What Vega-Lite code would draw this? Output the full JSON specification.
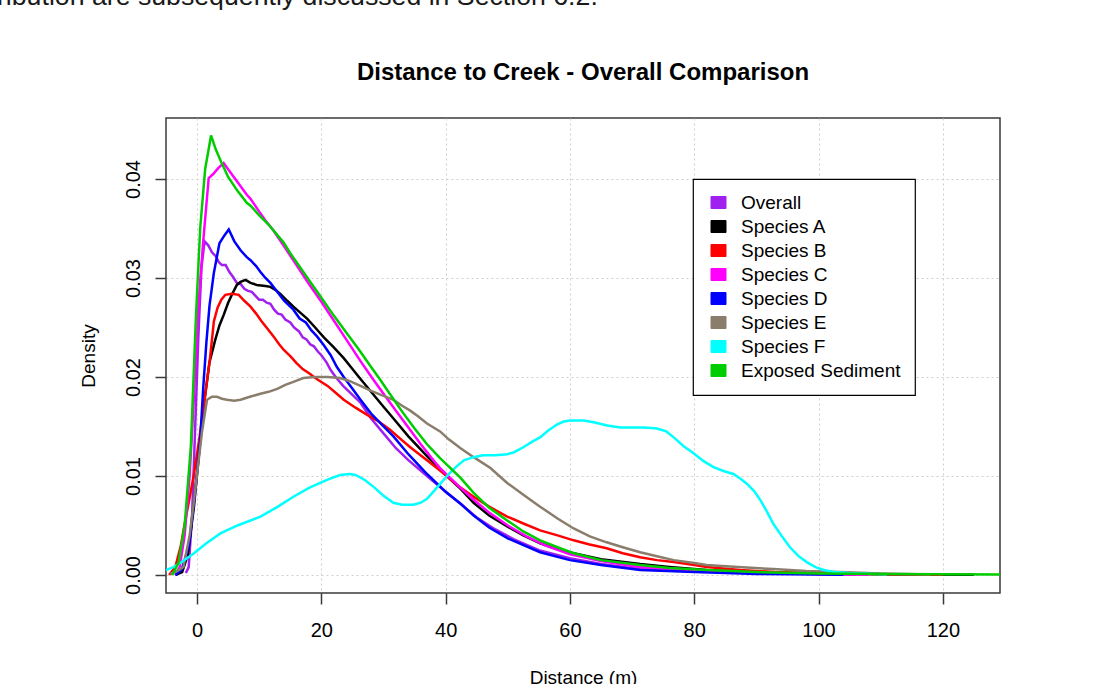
{
  "$schema": "https://vega.github.io/schema/vega-lite/v6.json",
  "autosize": {"type": "none"},
  "padding": {"left": 166, "top": 118, "right": 102, "bottom": 91},
  "width": 834,
  "height": 475,
  "background": "white",
  "config": {
    "font": "Liberation Sans",
    "view": {"stroke": "#3a3a3a", "strokeWidth": 1.5},
    "axis": {
      "domain": false,
      "grid": true,
      "gridColor": "#cfcfcf",
      "gridDash": [2, 3],
      "gridWidth": 1,
      "tickColor": "#3a3a3a",
      "tickWidth": 1.5,
      "tickSize": 11,
      "labelFont": "Liberation Sans",
      "labelFontSize": 20,
      "labelColor": "#000000",
      "labelFlush": false,
      "labelOverlap": false,
      "titleFont": "Liberation Sans",
      "titleFontSize": 19,
      "titleFontWeight": "normal",
      "titleColor": "#000000"
    }
  },
  "title": {
    "text": "Distance to Creek - Overall Comparison",
    "font": "Liberation Sans",
    "fontSize": 24,
    "fontWeight": "bold",
    "color": "#000000",
    "anchor": "middle",
    "frame": "group",
    "offset": 32,
    "dy": 133
  },
  "layer": [
    {
      "data": {
        "values": [
          {"series": "Overall", "distance": -1.8, "density": 0.0002},
          {"series": "Overall", "distance": -1.35, "density": 0.0008},
          {"series": "Overall", "distance": -0.8, "density": 0.006},
          {"series": "Overall", "distance": -0.3, "density": 0.015},
          {"series": "Overall", "distance": 0.2, "density": 0.024},
          {"series": "Overall", "distance": 0.7, "density": 0.031},
          {"series": "Overall", "distance": 1.2, "density": 0.0337},
          {"series": "Overall", "distance": 1.8, "density": 0.0333},
          {"series": "Overall", "distance": 2.4, "density": 0.0326},
          {"series": "Overall", "distance": 3.0, "density": 0.0322},
          {"series": "Overall", "distance": 3.5, "density": 0.0316},
          {"series": "Overall", "distance": 4.0, "density": 0.0313},
          {"series": "Overall", "distance": 4.6, "density": 0.0313},
          {"series": "Overall", "distance": 5.2, "density": 0.0306},
          {"series": "Overall", "distance": 5.8, "density": 0.0301},
          {"series": "Overall", "distance": 6.4, "density": 0.0295},
          {"series": "Overall", "distance": 7.0, "density": 0.0294},
          {"series": "Overall", "distance": 7.6, "density": 0.0289},
          {"series": "Overall", "distance": 8.2, "density": 0.0287},
          {"series": "Overall", "distance": 8.8, "density": 0.0286},
          {"series": "Overall", "distance": 9.4, "density": 0.0282},
          {"series": "Overall", "distance": 10.0, "density": 0.0278},
          {"series": "Overall", "distance": 10.6, "density": 0.0278},
          {"series": "Overall", "distance": 11.2, "density": 0.0275},
          {"series": "Overall", "distance": 11.8, "density": 0.0274},
          {"series": "Overall", "distance": 12.4, "density": 0.0268},
          {"series": "Overall", "distance": 13.0, "density": 0.0264},
          {"series": "Overall", "distance": 13.6, "density": 0.0263},
          {"series": "Overall", "distance": 14.2, "density": 0.0258},
          {"series": "Overall", "distance": 15.0, "density": 0.0255},
          {"series": "Overall", "distance": 15.6, "density": 0.025},
          {"series": "Overall", "distance": 16.4, "density": 0.0246},
          {"series": "Overall", "distance": 17.0, "density": 0.024},
          {"series": "Overall", "distance": 17.6, "density": 0.0238},
          {"series": "Overall", "distance": 18.2, "density": 0.0233},
          {"series": "Overall", "distance": 18.8, "density": 0.0231},
          {"series": "Overall", "distance": 19.4, "density": 0.0226},
          {"series": "Overall", "distance": 20.0, "density": 0.0222},
          {"series": "Overall", "distance": 20.8, "density": 0.0215},
          {"series": "Overall", "distance": 21.5, "density": 0.0207},
          {"series": "Overall", "distance": 22.3, "density": 0.02},
          {"series": "Overall", "distance": 23.5, "density": 0.0191},
          {"series": "Overall", "distance": 24.5, "density": 0.0185},
          {"series": "Overall", "distance": 26.3, "density": 0.0174},
          {"series": "Overall", "distance": 28, "density": 0.0158},
          {"series": "Overall", "distance": 30, "density": 0.0143},
          {"series": "Overall", "distance": 32, "density": 0.0128},
          {"series": "Overall", "distance": 34, "density": 0.0116},
          {"series": "Overall", "distance": 37, "density": 0.01},
          {"series": "Overall", "distance": 40, "density": 0.0084},
          {"series": "Overall", "distance": 42.4, "density": 0.0072},
          {"series": "Overall", "distance": 45, "density": 0.0058},
          {"series": "Overall", "distance": 48, "density": 0.0046},
          {"series": "Overall", "distance": 51, "density": 0.0036},
          {"series": "Overall", "distance": 55, "density": 0.0025},
          {"series": "Overall", "distance": 60, "density": 0.0017},
          {"series": "Overall", "distance": 65, "density": 0.0011},
          {"series": "Overall", "distance": 70, "density": 0.0007},
          {"series": "Overall", "distance": 75, "density": 0.0005},
          {"series": "Overall", "distance": 80, "density": 0.0004},
          {"series": "Overall", "distance": 90, "density": 0.0002},
          {"series": "Overall", "distance": 100, "density": 0.0001},
          {"series": "Overall", "distance": 106, "density": 0.00003},

          {"series": "Species A", "distance": -3.5, "density": 0.0},
          {"series": "Species A", "distance": -2.4, "density": 0.0003},
          {"series": "Species A", "distance": -1.5, "density": 0.002},
          {"series": "Species A", "distance": -0.5, "density": 0.0069},
          {"series": "Species A", "distance": 0.2, "density": 0.0115},
          {"series": "Species A", "distance": 1.06, "density": 0.017},
          {"series": "Species A", "distance": 2.0, "density": 0.0215},
          {"series": "Species A", "distance": 2.9, "density": 0.0237},
          {"series": "Species A", "distance": 3.6, "density": 0.0252},
          {"series": "Species A", "distance": 4.3, "density": 0.0263},
          {"series": "Species A", "distance": 5.0, "density": 0.0275},
          {"series": "Species A", "distance": 5.6, "density": 0.0283},
          {"series": "Species A", "distance": 6.4, "density": 0.0293},
          {"series": "Species A", "distance": 7.0, "density": 0.0296},
          {"series": "Species A", "distance": 7.8, "density": 0.0298},
          {"series": "Species A", "distance": 8.6, "density": 0.0295},
          {"series": "Species A", "distance": 9.6, "density": 0.0293},
          {"series": "Species A", "distance": 11.0, "density": 0.0292},
          {"series": "Species A", "distance": 11.8, "density": 0.0291},
          {"series": "Species A", "distance": 12.6, "density": 0.0288},
          {"series": "Species A", "distance": 13.4, "density": 0.0284},
          {"series": "Species A", "distance": 14.5, "density": 0.0277},
          {"series": "Species A", "distance": 15.5, "density": 0.0271},
          {"series": "Species A", "distance": 16.6, "density": 0.0265},
          {"series": "Species A", "distance": 17.7, "density": 0.0259},
          {"series": "Species A", "distance": 19.0, "density": 0.025},
          {"series": "Species A", "distance": 20.4, "density": 0.024},
          {"series": "Species A", "distance": 22.0, "density": 0.023},
          {"series": "Species A", "distance": 23.6, "density": 0.0219},
          {"series": "Species A", "distance": 25.0, "density": 0.0208},
          {"series": "Species A", "distance": 26.3, "density": 0.0198},
          {"series": "Species A", "distance": 28.4, "density": 0.0182},
          {"series": "Species A", "distance": 30, "density": 0.017},
          {"series": "Species A", "distance": 31.6, "density": 0.0158},
          {"series": "Species A", "distance": 34, "density": 0.014},
          {"series": "Species A", "distance": 37, "density": 0.012},
          {"series": "Species A", "distance": 39.5, "density": 0.0104},
          {"series": "Species A", "distance": 42.4, "density": 0.0087},
          {"series": "Species A", "distance": 44.5, "density": 0.0073},
          {"series": "Species A", "distance": 47, "density": 0.006},
          {"series": "Species A", "distance": 49.9, "density": 0.0049},
          {"series": "Species A", "distance": 52.5, "density": 0.004},
          {"series": "Species A", "distance": 55.2, "density": 0.0032},
          {"series": "Species A", "distance": 58, "density": 0.0026},
          {"series": "Species A", "distance": 60.6, "density": 0.0022},
          {"series": "Species A", "distance": 65, "density": 0.0016},
          {"series": "Species A", "distance": 71.3, "density": 0.0011},
          {"series": "Species A", "distance": 76, "density": 0.0008},
          {"series": "Species A", "distance": 82, "density": 0.0005},
          {"series": "Species A", "distance": 90, "density": 0.0003},
          {"series": "Species A", "distance": 100, "density": 0.00015},
          {"series": "Species A", "distance": 110, "density": 0.00008},
          {"series": "Species A", "distance": 125, "density": 0.00003},

          {"series": "Species B", "distance": -4.5, "density": 0.0},
          {"series": "Species B", "distance": -3.5, "density": 0.0008},
          {"series": "Species B", "distance": -2.6, "density": 0.003},
          {"series": "Species B", "distance": -1.9, "density": 0.0055},
          {"series": "Species B", "distance": -1.2, "density": 0.0078},
          {"series": "Species B", "distance": -0.5, "density": 0.0102},
          {"series": "Species B", "distance": 0.3, "density": 0.0135},
          {"series": "Species B", "distance": 1.06, "density": 0.017},
          {"series": "Species B", "distance": 2.1, "density": 0.022},
          {"series": "Species B", "distance": 2.7, "density": 0.0256},
          {"series": "Species B", "distance": 3.3, "density": 0.027},
          {"series": "Species B", "distance": 3.9, "density": 0.0278},
          {"series": "Species B", "distance": 4.55, "density": 0.0283},
          {"series": "Species B", "distance": 5.6, "density": 0.0284},
          {"series": "Species B", "distance": 6.7, "density": 0.0283},
          {"series": "Species B", "distance": 7.6, "density": 0.0277},
          {"series": "Species B", "distance": 8.6, "density": 0.0271},
          {"series": "Species B", "distance": 9.5, "density": 0.0264},
          {"series": "Species B", "distance": 10.4, "density": 0.0256},
          {"series": "Species B", "distance": 11.3, "density": 0.0249},
          {"series": "Species B", "distance": 12.3, "density": 0.0241},
          {"series": "Species B", "distance": 13.2, "density": 0.0233},
          {"series": "Species B", "distance": 14.0, "density": 0.0227},
          {"series": "Species B", "distance": 15.0, "density": 0.0221},
          {"series": "Species B", "distance": 16.0, "density": 0.0214},
          {"series": "Species B", "distance": 17.0, "density": 0.0208},
          {"series": "Species B", "distance": 18.2, "density": 0.0203},
          {"series": "Species B", "distance": 18.8, "density": 0.02},
          {"series": "Species B", "distance": 19.5, "density": 0.0197},
          {"series": "Species B", "distance": 21.0, "density": 0.0191},
          {"series": "Species B", "distance": 22.3, "density": 0.0184},
          {"series": "Species B", "distance": 23.6, "density": 0.0177},
          {"series": "Species B", "distance": 25.5, "density": 0.0169},
          {"series": "Species B", "distance": 27.3, "density": 0.0162},
          {"series": "Species B", "distance": 29, "density": 0.0156},
          {"series": "Species B", "distance": 31, "density": 0.0147},
          {"series": "Species B", "distance": 33, "density": 0.0136},
          {"series": "Species B", "distance": 34.3, "density": 0.0129},
          {"series": "Species B", "distance": 37, "density": 0.0116},
          {"series": "Species B", "distance": 39.6, "density": 0.0103},
          {"series": "Species B", "distance": 42, "density": 0.009},
          {"series": "Species B", "distance": 44.5, "density": 0.0079},
          {"series": "Species B", "distance": 47, "density": 0.0069},
          {"series": "Species B", "distance": 49.9, "density": 0.0059},
          {"series": "Species B", "distance": 52.5, "density": 0.0052},
          {"series": "Species B", "distance": 55.2, "density": 0.0045},
          {"series": "Species B", "distance": 58, "density": 0.004},
          {"series": "Species B", "distance": 60.6, "density": 0.0035},
          {"series": "Species B", "distance": 63, "density": 0.0031},
          {"series": "Species B", "distance": 65.9, "density": 0.0027},
          {"series": "Species B", "distance": 68.5, "density": 0.0022},
          {"series": "Species B", "distance": 71.3, "density": 0.0018},
          {"series": "Species B", "distance": 74, "density": 0.0015},
          {"series": "Species B", "distance": 76.7, "density": 0.0013},
          {"series": "Species B", "distance": 80, "density": 0.001},
          {"series": "Species B", "distance": 82, "density": 0.0008},
          {"series": "Species B", "distance": 87.4, "density": 0.0005},
          {"series": "Species B", "distance": 93, "density": 0.0003},
          {"series": "Species B", "distance": 100, "density": 0.0002},
          {"series": "Species B", "distance": 110, "density": 0.00008},
          {"series": "Species B", "distance": 120, "density": 0.00003},

          {"series": "Species C", "distance": -3.5, "density": 0.0},
          {"series": "Species C", "distance": -2.8, "density": 0.0008},
          {"series": "Species C", "distance": -2, "density": 0.004},
          {"series": "Species C", "distance": -1.2, "density": 0.01},
          {"series": "Species C", "distance": -0.5, "density": 0.018},
          {"series": "Species C", "distance": 0.2, "density": 0.0271},
          {"series": "Species C", "distance": 1.0, "density": 0.0338},
          {"series": "Species C", "distance": 1.87, "density": 0.0401},
          {"series": "Species C", "distance": 2.6, "density": 0.0405},
          {"series": "Species C", "distance": 3.4, "density": 0.0411},
          {"series": "Species C", "distance": 4.28, "density": 0.0416},
          {"series": "Species C", "distance": 5.2, "density": 0.0408},
          {"series": "Species C", "distance": 6.5, "density": 0.0397},
          {"series": "Species C", "distance": 8.0, "density": 0.0384},
          {"series": "Species C", "distance": 8.6, "density": 0.038},
          {"series": "Species C", "distance": 10.0, "density": 0.0367},
          {"series": "Species C", "distance": 11.0, "density": 0.0358},
          {"series": "Species C", "distance": 12.3, "density": 0.0348},
          {"series": "Species C", "distance": 14, "density": 0.0332},
          {"series": "Species C", "distance": 16, "density": 0.0313},
          {"series": "Species C", "distance": 18, "density": 0.0294},
          {"series": "Species C", "distance": 20, "density": 0.0276},
          {"series": "Species C", "distance": 22, "density": 0.0257},
          {"series": "Species C", "distance": 24, "density": 0.0238},
          {"series": "Species C", "distance": 26.3, "density": 0.0216},
          {"series": "Species C", "distance": 28.4, "density": 0.0197},
          {"series": "Species C", "distance": 30, "density": 0.0183},
          {"series": "Species C", "distance": 32, "density": 0.0166},
          {"series": "Species C", "distance": 34, "density": 0.0149},
          {"series": "Species C", "distance": 36, "density": 0.0132},
          {"series": "Species C", "distance": 38, "density": 0.0116},
          {"series": "Species C", "distance": 39.1, "density": 0.0108},
          {"series": "Species C", "distance": 42.4, "density": 0.0088},
          {"series": "Species C", "distance": 44.5, "density": 0.0076},
          {"series": "Species C", "distance": 47, "density": 0.0063},
          {"series": "Species C", "distance": 50, "density": 0.005},
          {"series": "Species C", "distance": 53, "density": 0.0039},
          {"series": "Species C", "distance": 56, "density": 0.003},
          {"series": "Species C", "distance": 60, "density": 0.0021},
          {"series": "Species C", "distance": 65, "density": 0.0014},
          {"series": "Species C", "distance": 70, "density": 0.0009},
          {"series": "Species C", "distance": 75, "density": 0.0006},
          {"series": "Species C", "distance": 80, "density": 0.0004},
          {"series": "Species C", "distance": 90, "density": 0.0002},
          {"series": "Species C", "distance": 100, "density": 0.0001},
          {"series": "Species C", "distance": 108, "density": 0.00003},

          {"series": "Species D", "distance": -3.5, "density": 0.0},
          {"series": "Species D", "distance": -2.5, "density": 0.0005},
          {"series": "Species D", "distance": -1.3, "density": 0.003},
          {"series": "Species D", "distance": -0.3, "density": 0.0085},
          {"series": "Species D", "distance": 0.5, "density": 0.0136},
          {"series": "Species D", "distance": 1.0, "density": 0.019},
          {"series": "Species D", "distance": 1.5, "density": 0.0235},
          {"series": "Species D", "distance": 2.0, "density": 0.0272},
          {"series": "Species D", "distance": 2.7, "density": 0.0305},
          {"series": "Species D", "distance": 3.6, "density": 0.0335},
          {"series": "Species D", "distance": 4.4, "density": 0.0343},
          {"series": "Species D", "distance": 5.1, "density": 0.0349},
          {"series": "Species D", "distance": 6.0, "density": 0.0337},
          {"series": "Species D", "distance": 7.0, "density": 0.0328},
          {"series": "Species D", "distance": 8.0, "density": 0.0321},
          {"series": "Species D", "distance": 8.6, "density": 0.0318},
          {"series": "Species D", "distance": 9.5, "density": 0.0312},
          {"series": "Species D", "distance": 10.2, "density": 0.0306},
          {"series": "Species D", "distance": 11.0, "density": 0.03},
          {"series": "Species D", "distance": 11.8, "density": 0.0295},
          {"series": "Species D", "distance": 12.9, "density": 0.0286},
          {"series": "Species D", "distance": 14.0, "density": 0.0277},
          {"series": "Species D", "distance": 15.5, "density": 0.0268},
          {"series": "Species D", "distance": 16.5, "density": 0.0259},
          {"series": "Species D", "distance": 17.5, "density": 0.0255},
          {"series": "Species D", "distance": 18.4, "density": 0.0247},
          {"series": "Species D", "distance": 19.3, "density": 0.0241},
          {"series": "Species D", "distance": 20.4, "density": 0.0232},
          {"series": "Species D", "distance": 21.5, "density": 0.0222},
          {"series": "Species D", "distance": 22.5, "density": 0.021},
          {"series": "Species D", "distance": 23.6, "density": 0.02},
          {"series": "Species D", "distance": 25.0, "density": 0.0188},
          {"series": "Species D", "distance": 26.3, "density": 0.0177},
          {"series": "Species D", "distance": 28, "density": 0.0163},
          {"series": "Species D", "distance": 30, "density": 0.015},
          {"series": "Species D", "distance": 31.6, "density": 0.014},
          {"series": "Species D", "distance": 34, "density": 0.0122},
          {"series": "Species D", "distance": 37, "density": 0.0102},
          {"series": "Species D", "distance": 40, "density": 0.0084},
          {"series": "Species D", "distance": 42.4, "density": 0.0072},
          {"series": "Species D", "distance": 44.5, "density": 0.006},
          {"series": "Species D", "distance": 47, "density": 0.0048},
          {"series": "Species D", "distance": 50, "density": 0.0037},
          {"series": "Species D", "distance": 55.2, "density": 0.0023},
          {"series": "Species D", "distance": 60, "density": 0.0015},
          {"series": "Species D", "distance": 65, "density": 0.001},
          {"series": "Species D", "distance": 71.3, "density": 0.0005},
          {"series": "Species D", "distance": 80, "density": 0.0003},
          {"series": "Species D", "distance": 90, "density": 0.0001},
          {"series": "Species D", "distance": 104, "density": 0.00002},

          {"series": "Species E", "distance": -4.3, "density": 0.0001},
          {"series": "Species E", "distance": -3.2, "density": 0.0004},
          {"series": "Species E", "distance": -2.2, "density": 0.0008},
          {"series": "Species E", "distance": -1.2, "density": 0.004},
          {"series": "Species E", "distance": -0.5, "density": 0.0075},
          {"series": "Species E", "distance": 0, "density": 0.0102},
          {"series": "Species E", "distance": 0.8, "density": 0.0145},
          {"series": "Species E", "distance": 1.6, "density": 0.0177},
          {"series": "Species E", "distance": 2.4, "density": 0.018},
          {"series": "Species E", "distance": 3.2, "density": 0.018},
          {"series": "Species E", "distance": 4.0, "density": 0.0178},
          {"series": "Species E", "distance": 4.8, "density": 0.0177},
          {"series": "Species E", "distance": 6.0, "density": 0.0176},
          {"series": "Species E", "distance": 7.0, "density": 0.0177},
          {"series": "Species E", "distance": 8.5, "density": 0.018},
          {"series": "Species E", "distance": 10.2, "density": 0.0183},
          {"series": "Species E", "distance": 11.5, "density": 0.0185},
          {"series": "Species E", "distance": 12.9, "density": 0.0188},
          {"series": "Species E", "distance": 14.2, "density": 0.0192},
          {"series": "Species E", "distance": 15.5, "density": 0.0195},
          {"series": "Species E", "distance": 17.1, "density": 0.0199},
          {"series": "Species E", "distance": 19, "density": 0.02},
          {"series": "Species E", "distance": 21, "density": 0.02},
          {"series": "Species E", "distance": 23.0, "density": 0.0199},
          {"series": "Species E", "distance": 24.5, "density": 0.0196},
          {"series": "Species E", "distance": 26.3, "density": 0.0191},
          {"series": "Species E", "distance": 28, "density": 0.0186},
          {"series": "Species E", "distance": 30, "density": 0.0181},
          {"series": "Species E", "distance": 31.6, "density": 0.0177},
          {"series": "Species E", "distance": 33, "density": 0.0171},
          {"series": "Species E", "distance": 34.3, "density": 0.0166},
          {"series": "Species E", "distance": 35.6, "density": 0.016},
          {"series": "Species E", "distance": 37, "density": 0.0153},
          {"series": "Species E", "distance": 39.1, "density": 0.0145},
          {"series": "Species E", "distance": 40.5, "density": 0.0137},
          {"series": "Species E", "distance": 42.4, "density": 0.0128},
          {"series": "Species E", "distance": 44.5, "density": 0.0119},
          {"series": "Species E", "distance": 47.2, "density": 0.0108},
          {"series": "Species E", "distance": 49.9, "density": 0.0093},
          {"series": "Species E", "distance": 52.5, "density": 0.0081},
          {"series": "Species E", "distance": 55.2, "density": 0.0069},
          {"series": "Species E", "distance": 58, "density": 0.0057},
          {"series": "Species E", "distance": 60.6, "density": 0.0047},
          {"series": "Species E", "distance": 63.2, "density": 0.0039},
          {"series": "Species E", "distance": 65.9, "density": 0.0033},
          {"series": "Species E", "distance": 68.5, "density": 0.0028},
          {"series": "Species E", "distance": 71.3, "density": 0.0023},
          {"series": "Species E", "distance": 74, "density": 0.0019},
          {"series": "Species E", "distance": 76.7, "density": 0.0015},
          {"series": "Species E", "distance": 80, "density": 0.0012},
          {"series": "Species E", "distance": 82, "density": 0.001},
          {"series": "Species E", "distance": 87, "density": 0.0008},
          {"series": "Species E", "distance": 92.7, "density": 0.0006},
          {"series": "Species E", "distance": 98, "density": 0.0004},
          {"series": "Species E", "distance": 103.5, "density": 0.0003},
          {"series": "Species E", "distance": 110, "density": 0.00015},
          {"series": "Species E", "distance": 118, "density": 0.00005},

          {"series": "Species F", "distance": -5, "density": 0.0005},
          {"series": "Species F", "distance": -3.8, "density": 0.0008},
          {"series": "Species F", "distance": -2.5, "density": 0.0013},
          {"series": "Species F", "distance": -0.5, "density": 0.0022},
          {"series": "Species F", "distance": 1.5, "density": 0.0032},
          {"series": "Species F", "distance": 3.75, "density": 0.0042},
          {"series": "Species F", "distance": 6.5, "density": 0.005},
          {"series": "Species F", "distance": 10.2, "density": 0.0059},
          {"series": "Species F", "distance": 13, "density": 0.0069},
          {"series": "Species F", "distance": 15.5, "density": 0.0079},
          {"series": "Species F", "distance": 18, "density": 0.0088},
          {"series": "Species F", "distance": 20.9, "density": 0.0096},
          {"series": "Species F", "distance": 23.0, "density": 0.0101},
          {"series": "Species F", "distance": 24.5, "density": 0.0102},
          {"series": "Species F", "distance": 25.5, "density": 0.0101},
          {"series": "Species F", "distance": 27, "density": 0.0096},
          {"series": "Species F", "distance": 28.4, "density": 0.0089},
          {"series": "Species F", "distance": 30, "density": 0.008},
          {"series": "Species F", "distance": 31.6, "density": 0.0073},
          {"series": "Species F", "distance": 33, "density": 0.0071},
          {"series": "Species F", "distance": 34.8, "density": 0.0071},
          {"series": "Species F", "distance": 36, "density": 0.0073},
          {"series": "Species F", "distance": 37, "density": 0.0077},
          {"series": "Species F", "distance": 38, "density": 0.0084},
          {"series": "Species F", "distance": 39.1, "density": 0.0092},
          {"series": "Species F", "distance": 40.5, "density": 0.0102},
          {"series": "Species F", "distance": 41.8, "density": 0.011},
          {"series": "Species F", "distance": 43, "density": 0.0116},
          {"series": "Species F", "distance": 44.5, "density": 0.0119},
          {"series": "Species F", "distance": 46, "density": 0.0121},
          {"series": "Species F", "distance": 48, "density": 0.0121},
          {"series": "Species F", "distance": 49.9, "density": 0.0122},
          {"series": "Species F", "distance": 51, "density": 0.0124},
          {"series": "Species F", "distance": 52.5, "density": 0.0129},
          {"series": "Species F", "distance": 54, "density": 0.0135},
          {"series": "Species F", "distance": 55.2, "density": 0.0139},
          {"series": "Species F", "distance": 56.5, "density": 0.0146},
          {"series": "Species F", "distance": 57.9, "density": 0.0152},
          {"series": "Species F", "distance": 59, "density": 0.0155},
          {"series": "Species F", "distance": 60.0, "density": 0.0156},
          {"series": "Species F", "distance": 62.2, "density": 0.0156},
          {"series": "Species F", "distance": 64, "density": 0.0154},
          {"series": "Species F", "distance": 66, "density": 0.0151},
          {"series": "Species F", "distance": 68.1, "density": 0.0149},
          {"series": "Species F", "distance": 70, "density": 0.0149},
          {"series": "Species F", "distance": 72, "density": 0.0149},
          {"series": "Species F", "distance": 74.0, "density": 0.0148},
          {"series": "Species F", "distance": 75.5, "density": 0.0145},
          {"series": "Species F", "distance": 76.7, "density": 0.0139},
          {"series": "Species F", "distance": 78.3, "density": 0.013},
          {"series": "Species F", "distance": 79.9, "density": 0.0123},
          {"series": "Species F", "distance": 81.5, "density": 0.0115},
          {"series": "Species F", "distance": 83.1, "density": 0.0109},
          {"series": "Species F", "distance": 84.7, "density": 0.0105},
          {"series": "Species F", "distance": 86.3, "density": 0.0102},
          {"series": "Species F", "distance": 87.5, "density": 0.0097},
          {"series": "Species F", "distance": 88.5, "density": 0.0092},
          {"series": "Species F", "distance": 89.6, "density": 0.0085},
          {"series": "Species F", "distance": 90.6, "density": 0.0076},
          {"series": "Species F", "distance": 91.7, "density": 0.0064},
          {"series": "Species F", "distance": 92.7, "density": 0.0052},
          {"series": "Species F", "distance": 94, "density": 0.004},
          {"series": "Species F", "distance": 95.4, "density": 0.0028},
          {"series": "Species F", "distance": 96.8, "density": 0.0019},
          {"series": "Species F", "distance": 98.1, "density": 0.0013},
          {"series": "Species F", "distance": 99.5, "density": 0.0008},
          {"series": "Species F", "distance": 100.8, "density": 0.0005},
          {"series": "Species F", "distance": 102.5, "density": 0.0003},
          {"series": "Species F", "distance": 105, "density": 0.0002},
          {"series": "Species F", "distance": 111, "density": 0.00005},

          {"series": "Exposed Sediment", "distance": -4, "density": 0.0},
          {"series": "Exposed Sediment", "distance": -3, "density": 0.0012},
          {"series": "Exposed Sediment", "distance": -2, "density": 0.005},
          {"series": "Exposed Sediment", "distance": -1, "density": 0.013},
          {"series": "Exposed Sediment", "distance": -0.2, "density": 0.0258},
          {"series": "Exposed Sediment", "distance": 0.5, "density": 0.035},
          {"series": "Exposed Sediment", "distance": 1.3, "density": 0.041},
          {"series": "Exposed Sediment", "distance": 2.25, "density": 0.0444},
          {"series": "Exposed Sediment", "distance": 3.0, "density": 0.043},
          {"series": "Exposed Sediment", "distance": 3.9, "density": 0.0417},
          {"series": "Exposed Sediment", "distance": 5.0, "density": 0.0402},
          {"series": "Exposed Sediment", "distance": 6.5, "density": 0.0388},
          {"series": "Exposed Sediment", "distance": 8.0, "density": 0.0376},
          {"series": "Exposed Sediment", "distance": 8.6, "density": 0.0373},
          {"series": "Exposed Sediment", "distance": 10.2, "density": 0.0362},
          {"series": "Exposed Sediment", "distance": 11.5, "density": 0.0354},
          {"series": "Exposed Sediment", "distance": 12.3, "density": 0.0348},
          {"series": "Exposed Sediment", "distance": 13.9, "density": 0.0336},
          {"series": "Exposed Sediment", "distance": 15, "density": 0.0325},
          {"series": "Exposed Sediment", "distance": 18, "density": 0.0298},
          {"series": "Exposed Sediment", "distance": 20, "density": 0.028},
          {"series": "Exposed Sediment", "distance": 22, "density": 0.0262},
          {"series": "Exposed Sediment", "distance": 24, "density": 0.0245},
          {"series": "Exposed Sediment", "distance": 26, "density": 0.0228},
          {"series": "Exposed Sediment", "distance": 28, "density": 0.021},
          {"series": "Exposed Sediment", "distance": 29.5, "density": 0.0197},
          {"series": "Exposed Sediment", "distance": 31, "density": 0.0183},
          {"series": "Exposed Sediment", "distance": 33, "density": 0.0165},
          {"series": "Exposed Sediment", "distance": 35, "density": 0.0148},
          {"series": "Exposed Sediment", "distance": 37, "density": 0.0132},
          {"series": "Exposed Sediment", "distance": 39.1, "density": 0.0118},
          {"series": "Exposed Sediment", "distance": 42.4, "density": 0.0098},
          {"series": "Exposed Sediment", "distance": 44.5, "density": 0.0083},
          {"series": "Exposed Sediment", "distance": 47, "density": 0.0068},
          {"series": "Exposed Sediment", "distance": 49.9, "density": 0.0055},
          {"series": "Exposed Sediment", "distance": 52.5, "density": 0.0044},
          {"series": "Exposed Sediment", "distance": 55.2, "density": 0.0035},
          {"series": "Exposed Sediment", "distance": 58, "density": 0.0028},
          {"series": "Exposed Sediment", "distance": 60.6, "density": 0.0022},
          {"series": "Exposed Sediment", "distance": 65, "density": 0.0015},
          {"series": "Exposed Sediment", "distance": 71.3, "density": 0.001},
          {"series": "Exposed Sediment", "distance": 76, "density": 0.0007},
          {"series": "Exposed Sediment", "distance": 82, "density": 0.0005},
          {"series": "Exposed Sediment", "distance": 90, "density": 0.0003},
          {"series": "Exposed Sediment", "distance": 100, "density": 0.00015},
          {"series": "Exposed Sediment", "distance": 110, "density": 0.0001},
          {"series": "Exposed Sediment", "distance": 120, "density": 0.00007},
          {"series": "Exposed Sediment", "distance": 135, "density": 0.00004}
        ]
      },
      "mark": {"type": "line", "strokeWidth": 2.5, "clip": true},
      "encoding": {
        "x": {
          "field": "distance",
          "type": "quantitative",
          "scale": {"domain": [-5, 129.2], "nice": false, "zero": false},
          "axis": {
            "values": [0, 20, 40, 60, 80, 100, 120],
            "title": "Distance (m)",
            "labelPadding": 16,
            "titlePadding": 28
          }
        },
        "y": {
          "field": "density",
          "type": "quantitative",
          "scale": {"domain": [-0.00182, 0.04616], "nice": false, "zero": false},
          "axis": {
            "values": [0, 0.01, 0.02, 0.03, 0.04],
            "format": ".2f",
            "title": "Density",
            "labelAngle": -90,
            "labelAlign": "center",
            "labelBaseline": "middle",
            "labelPadding": 22,
            "titlePadding": 25
          }
        },
        "color": {
          "field": "series",
          "type": "nominal",
          "scale": {
            "domain": ["Overall", "Species A", "Species B", "Species C", "Species D", "Species E", "Species F", "Exposed Sediment"],
            "range": ["#A020F0", "#000000", "#FF0000", "#FF00FF", "#0000FF", "#8B7D6B", "#00FFFF", "#00CD00"]
          },
          "legend": {
            "title": null,
            "orient": "none",
            "legendX": 527,
            "legendY": 61,
            "padding": 14,
            "fillColor": "#ffffff",
            "strokeColor": "#000000",
            "cornerRadius": 0,
            "symbolType": "M-1,-0.8H1V0.8H-1Z",
            "symbolSize": 225,
            "symbolOffset": 2,
            "labelOffset": 13,
            "labelFont": "Liberation Sans",
            "labelFontSize": 19,
            "labelColor": "#000000",
            "labelLimit": 300,
            "rowPadding": 4,
            "encode": {
              "legend": {
                "update": {
                  "strokeWidth": {"value": 1.2}
                }
              },
              "symbols": {
                "update": {
                  "fill": {"scale": "color", "field": "value"},
                  "fillOpacity": {"value": 1},
                  "stroke": {"value": "#000000"},
                  "strokeWidth": {"value": 1},
                  "opacity": {"value": 1}
                }
              }
            }
          }
        }
      }
    },
    {
      "data": {"values": [{"note": "ribution are subsequently discussed in Section 6.2."}]},
      "mark": {"type": "text", "align": "left", "baseline": "alphabetic", "fontSize": 26.7, "font": "Liberation Sans", "color": "#1a1a1a", "clip": false},
      "encoding": {
        "x": {"datum": -32.2, "type": "quantitative"},
        "y": {"datum": 0.05754, "type": "quantitative"},
        "text": {"field": "note"}
      }
    }
  ]
}
